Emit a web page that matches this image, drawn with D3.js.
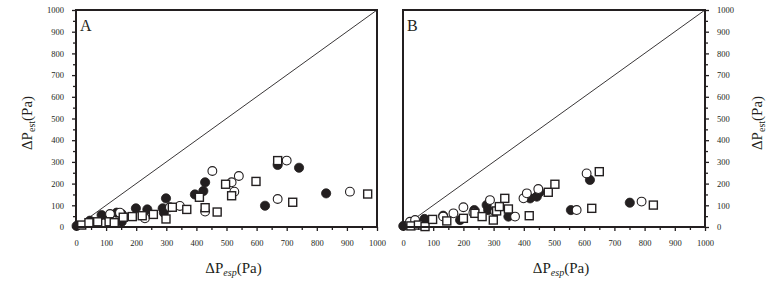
<!DOCTYPE html>
<html>
<head>
<meta charset="utf-8">
<script src="https://cdn.jsdelivr.net/npm/d3@7"></script>
<style>
	body { margin: 0; background: #fff; }
	svg { display: block; }
</style>
</head>
<body>
<div id="chart"></div>
<script>
// Panel A: [ΔP_esp, ΔP_est]
var aFilled = [[2,5],[46,29],[85,55],[107,47],[135,66],[152,60],[152,24],[199,86],[237,81],[299,132],[288,86],[292,66],[395,150],[423,166],[429,206],[670,286],[741,273],[628,98],[831,155]];
var aOpen = [[113,60],[146,66],[229,40],[345,97],[312,91],[429,71],[453,258],[517,206],[541,235],[526,163],[700,306],[670,129],[910,163]];
var aSquare = [[19,9],[43,20],[72,24],[110,24],[127,20],[157,45],[187,48],[220,52],[257,58],[299,37],[320,91],[368,81],[410,137],[429,89],[469,69],[497,197],[517,144],[598,210],[670,306],[720,114],[969,152]];

// Panel B
var bFilled = [[1,5],[71,37],[133,52],[189,32],[236,78],[277,101],[282,78],[349,48],[421,132],[443,140],[452,160],[556,78],[619,217],[751,112]];
var bOpen = [[23,24],[40,32],[133,48],[167,63],[200,91],[233,66],[288,124],[305,71],[371,48],[399,132],[410,155],[448,175],[575,78],[608,247],[790,117]];
var bSquare = [[26,5],[51,9],[73,2],[98,35],[145,28],[200,40],[238,63],[262,48],[299,32],[310,74],[319,94],[337,132],[349,83],[418,52],[481,160],[503,197],[625,86],[650,255],[829,101]];

var majorTicks = d3.range(0, 1001, 100);
var minorTicks = d3.range(50, 1000, 100);

var W = 783, H = 283, ink = "#231f20";
var serif = "'Liberation Serif', 'DejaVu Serif', serif";

var svg = d3.select("#chart").append("svg")
		.attr("width", W)
		.attr("height", H);

var yScale = d3.scaleLinear().domain([0, 1000]).range([227, 10]);

function panel(name, x0, x1, filled, open, square, yLabelsRight) {
	var xScale = d3.scaleLinear().domain([0, 1000]).range([x0, x1]);
	var g = svg.append("g").attr("class", "panel-" + name);

	// Diagonal 1:1 line
	g.append("line")
			.attr("x1", xScale(0)).attr("y1", yScale(0))
			.attr("x2", xScale(1000)).attr("y2", yScale(1000))
			.style("stroke", ink)
			.style("stroke-width", 0.9);

	// Points
	var body = g.append("g").attr("class", "chart-body");
	body.selectAll(".filled").data(filled).enter().append("circle")
			.attr("class", "filled")
			.attr("cx", function(d) { return xScale(d[0]); })
			.attr("cy", function(d) { return yScale(d[1]); })
			.attr("r", 4.6)
			.style("fill", ink)
			.style("stroke", ink)
			.style("stroke-width", 0.8);
	body.selectAll(".open").data(open).enter().append("circle")
			.attr("class", "open")
			.attr("cx", function(d) { return xScale(d[0]); })
			.attr("cy", function(d) { return yScale(d[1]); })
			.attr("r", 4.4)
			.style("fill", "#fff")
			.style("stroke", ink)
			.style("stroke-width", 1.1);
	body.selectAll(".square").data(square).enter().append("rect")
			.attr("class", "square")
			.attr("x", function(d) { return xScale(d[0]) - 4; })
			.attr("y", function(d) { return yScale(d[1]) - 4; })
			.attr("width", 8)
			.attr("height", 8)
			.style("fill", "#fff")
			.style("stroke", ink)
			.style("stroke-width", 1.4);

	// X axis
	var xAxis = d3.axisBottom(xScale).tickValues(majorTicks).tickSize(4).tickPadding(9).tickFormat(d3.format("d"));
	g.append("g").attr("class", "x axis")
			.attr("transform", "translate(0," + yScale(0) + ")")
			.call(xAxis);
	g.append("g").attr("class", "x minor")
			.attr("transform", "translate(0," + yScale(0) + ")")
			.call(d3.axisBottom(xScale).tickValues(minorTicks).tickSize(3).tickFormat(""));

	// Y axis (left or right side)
	var yPos = yLabelsRight ? x1 : x0;
	var mk = yLabelsRight ? d3.axisRight : d3.axisLeft;
	g.append("g").attr("class", "y axis")
			.attr("transform", "translate(" + yPos + ",0)")
			.call(mk(yScale).tickValues(majorTicks).tickSize(4).tickPadding(8).tickFormat(d3.format("d")));
	g.append("g").attr("class", "y minor")
			.attr("transform", "translate(" + yPos + ",0)")
			.call(mk(yScale).tickValues(minorTicks).tickSize(3).tickFormat(""));

	g.selectAll(".domain").remove();
	g.selectAll(".axis, .minor").attr("font-family", serif).attr("font-size", 8.5);
	g.selectAll(".tick text").attr("fill", ink);
	g.selectAll(".tick line").style("stroke", ink).style("stroke-width", 1.3);

	// Frame
	g.append("rect")
			.attr("x", x0).attr("y", yScale(1000))
			.attr("width", x1 - x0).attr("height", yScale(0) - yScale(1000))
			.style("fill", "none")
			.style("stroke", ink)
			.style("stroke-width", 2);

	// Panel letter
	g.append("text")
			.attr("x", x0 + 4).attr("y", 31)
			.attr("font-family", serif)
			.attr("font-size", 16)
			.attr("fill", ink)
			.text(name);

	// X title
	var xt = g.append("text")
			.attr("x", (x0 + x1) / 2 + 7).attr("y", 273)
			.attr("font-family", serif)
			.attr("font-size", 15)
			.attr("fill", ink)
			.attr("text-anchor", "middle");
	xt.append("tspan").text("ΔP");
	xt.append("tspan").attr("dy", 3).attr("font-size", 10).attr("font-style", "italic").text("esp");
	xt.append("tspan").attr("dy", -3).text("(Pa)");

	return g;
}

panel("A", 76, 377, aFilled, aOpen, aSquare, false);
panel("B", 403, 705, bFilled, bOpen, bSquare, true);

// Y titles
[27, 757].forEach(function(x) {
	var t = svg.append("text")
			.attr("transform", "translate(" + (x + 5) + ",123) rotate(-90)")
			.attr("font-family", serif)
			.attr("font-size", 15)
			.attr("fill", ink)
			.attr("text-anchor", "middle");
	t.append("tspan").text("ΔP");
	t.append("tspan").attr("dy", 3).attr("font-size", 10).text("est");
	t.append("tspan").attr("dy", -3).text("(Pa)");
});
</script>
</body>
</html>
